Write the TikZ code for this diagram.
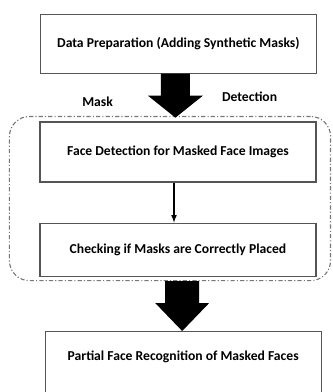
\documentclass[tikz,border=0pt]{standalone}
\usepackage{fontspec}
\setmainfont{Carlito}
\usepackage{tikz}
\usetikzlibrary{shapes,arrows,positioning,fit,calc}
\definecolor{boxline}{RGB}{85,85,85}
\definecolor{groupline}{RGB}{120,120,120}

\begin{document}
\begin{tikzpicture}[
    stage/.style={draw=boxline, line width=0.8pt, minimum width=6.9cm,
        font=\bfseries\fontsize{9.7}{11}\selectfont},
    tag/.style={font=\bfseries\fontsize{9.7}{11}\selectfont}
]
    % Page
    \useasboundingbox[fill=white] (0,0) rectangle (8.3,-9.8);

    % Stages
    \node[stage, minimum height=1.475cm] (prep) at (4.46,-1.09)
        {Data Preparation (Adding Synthetic Masks)};
    \node[stage, minimum height=1.5cm] (detect) at (4.45,-3.8)
        {Face Detection for Masked Face Images};
    \node[stage, minimum height=1.325cm] (check) at (4.45,-6.24)
        {Checking if Masks are Correctly Placed};
    \node[stage, anchor=north, inner sep=0pt, text height=0.72cm, text depth=1.3cm]
        (recog) at (4.58,-8.275) {Partial Face Recognition of Masked Faces};

    % Mask detection group
    \node[draw=groupline, line width=0.8pt, rounded corners=0.5cm,
        dash pattern=on 3pt off 1.5pt on 0.8pt off 1.5pt, inner sep=0pt,
        fit={($(detect.north west)+(-0.75,0.125)$) ($(check.south east)+(0.35,-0.1)$)}]
        (group) {};
    \node[tag] (masklbl) at (2.44,-2.54) {Mask};
    \node[tag] (detlbl) at (6.24,-2.42) {Detection};

    % Block arrows
    \fill ([xshift=-0.4375cm]prep.south) -- ++(0,-0.55) -- ++(-0.325,0)
        -- ++(0.6875,-0.55) -- ++(0.6875,0.55) -- ++(-0.325,0) -- ++(0,0.55) -- cycle;
    \fill ([xshift=-0.025cm]recog.north) -- ++(-0.675,0.7) -- ++(0.25,0)
        -- ++(0,0.55) -- ++(0.85,0) -- ++(0,-0.55) -- ++(0.25,0) -- cycle;

    % Arrow
    \draw[-latex, line width=0.8pt] ([xshift=-0.1cm]detect.south) -- ([xshift=-0.1cm]check.north);
\end{tikzpicture}
\end{document}
